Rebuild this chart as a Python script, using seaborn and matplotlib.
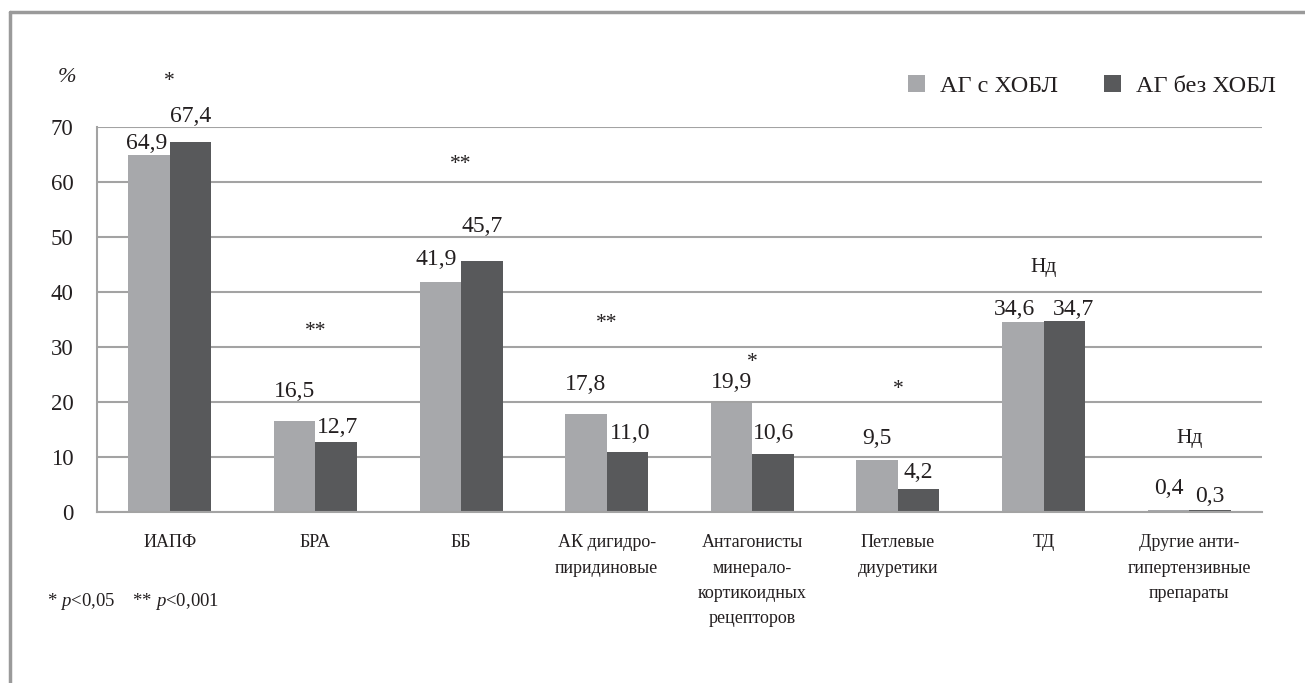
import numpy as np
import pandas as pd
import matplotlib
matplotlib.use("Agg")
import matplotlib.pyplot as plt
from matplotlib.lines import Line2D
from matplotlib.patches import Patch
import seaborn as sns

categories = ["ИАПФ", "БРА", "ББ", "АК дигидро-\nпиридиновые",
              "Антагонисты\nминерало-\nкортикоидных\nрецепторов",
              "Петлевые\nдиуретики", "ТД", "Другие анти-\nгипертензивные\nпрепараты"]
series_names = ["АГ с ХОБЛ", "АГ без ХОБЛ"]
with_copd = [64.9, 16.5, 41.9, 17.8, 19.9, 9.5, 34.6, 0.4]
without_copd = [67.4, 12.7, 45.7, 11.0, 10.6, 4.2, 34.7, 0.3]
significance = ["*", "**", "**", "**", "*", "*", "Нд", "Нд"]
y_ticks = [0, 10, 20, 30, 40, 50, 60, 70]

# annotation placement (baseline in data units, horizontal nudge in category units)
label_base_light = [66.0, 21.0, 45.0, 22.2, 22.5, 12.4, 35.8, 3.2]
label_base_dark = [70.9, 14.3, 51.0, 13.2, 13.2, 6.1, 35.8, 1.9]
label_dx_light = [-0.02, 0, -0.03, 0, 0, 0, -0.06, 0]
label_dx_dark = [0, 0.01, 0, 0.02, 0, 0, 0.06, 0]
sig_base = [77.5, 32.0, 62.4, 33.5, 26.4, 21.5, 43.7, 12.6]

sns.set_theme(style="white")
plt.rcParams['font.family'] = ['Liberation Serif', 'DejaVu Serif']
plt.rcParams['mathtext.fontset'] = 'custom'
plt.rcParams['mathtext.rm'] = 'Liberation Serif'
plt.rcParams['mathtext.it'] = 'Liberation Serif:italic'

light = "#A7A8AB"
dark = "#58595B"
gridc = "#A3A3A3"
txtc = "#231F20"

df = pd.DataFrame({
    "cat": categories * 2,
    "series": [series_names[0]] * len(categories) + [series_names[1]] * len(categories),
    "val": with_copd + without_copd,
})

fig = plt.figure(figsize=(13.05, 6.83), dpi=100)
ax = fig.add_axes([97 / 1305, 1 - 512 / 683, (1262 - 97) / 1305, (512 - 127.3) / 683])

sns.barplot(data=df, x="cat", y="val", hue="series", order=categories,
            hue_order=series_names, palette=[light, dark], width=0.57,
            gap=0, saturation=1, linewidth=0, errorbar=None, legend=False, ax=ax)

ax.set_ylim(0, 70)
ax.set_xlim(-0.5, len(categories) - 0.5)
ax.set_yticks(y_ticks)
ax.set_yticklabels([str(t) for t in y_ticks], fontsize=16.5, color=txtc)
ax.set_xticks(range(len(categories)))
ax.set_xticklabels(categories, fontsize=13, color=txtc, linespacing=1.64)
ax.set_xticks(np.arange(-0.5, len(categories), 1.0), minor=True)
ax.tick_params(axis="x", which="major", length=0, pad=16)
ax.tick_params(axis="x", which="minor", length=5, width=1.2, color=gridc, direction="out")
ax.tick_params(axis="y", which="major", length=4.5, width=1.2, color=gridc, direction="out", pad=12.5)
ax.set_xlabel("")
ax.set_ylabel("")
ax.grid(axis="y", color=gridc, linewidth=1.5)
ax.set_axisbelow(True)
for s in ["top", "right"]:
    ax.spines[s].set_visible(False)
for s in ["left", "bottom"]:
    ax.spines[s].set_color(gridc)
    ax.spines[s].set_linewidth(1.5)

off = 0.57 / 4
for i in range(len(categories)):
    ax.text(i - off + label_dx_light[i], label_base_light[i],
            f"{with_copd[i]:.1f}".replace(".", ","),
            ha="center", va="baseline", fontsize=17, color=txtc, clip_on=False)
    ax.text(i + off + label_dx_dark[i], label_base_dark[i],
            f"{without_copd[i]:.1f}".replace(".", ","),
            ha="center", va="baseline", fontsize=17, color=txtc, clip_on=False)
    ax.text(i, sig_base[i], significance[i], ha="center", va="baseline",
            fontsize=15.5, color=txtc, clip_on=False)

# legend
handles = [Patch(facecolor=light, edgecolor="none"), Patch(facecolor=dark, edgecolor="none")]
fig.legend(handles, series_names, loc="center left", bbox_to_anchor=(908 / 1305, 1 - 86 / 683),
           ncol=2, frameon=False, fontsize=17.5, handlelength=0.7, handleheight=0.7,
           handletextpad=0.62, columnspacing=1.9, labelcolor=txtc,
           borderpad=0, borderaxespad=0)

fig.text(58 / 1305, 1 - 77 / 683, "%", fontsize=16, style="italic", color=txtc,
         ha="left", va="center")
fig.text(47 / 1305, 1 - 602 / 683, r"* $\it{p}$<0,05    ** $\it{p}$<0,001",
         fontsize=13.5, color=txtc, ha="left", va="center")

# outer frame lines
fig.add_artist(Line2D([10 / 1305, 1.0], [1 - 12 / 683, 1 - 12 / 683], color="#9A9A9A",
                      linewidth=2.5, transform=fig.transFigure))
fig.add_artist(Line2D([10 / 1305, 10 / 1305], [0, 1 - 12 / 683], color="#9A9A9A",
                      linewidth=2.5, transform=fig.transFigure))

fig.savefig("out.png", dpi=100)
